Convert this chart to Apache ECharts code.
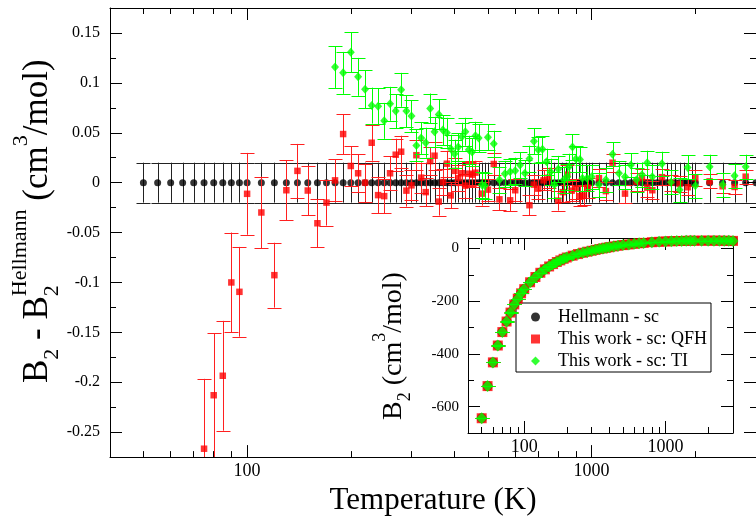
<!DOCTYPE html>
<html>
<head>
<meta charset="utf-8">
<script src="https://cdn.jsdelivr.net/npm/echarts@6/dist/echarts.min.js"></script>
<style>
html, body { margin: 0; padding: 0; background: #fff; }
#chart { width: 756px; height: 521px; }
</style>
</head>
<body>
<div id="chart"></div>
<script>
// ---- data ----
// Hellmann reference grid (deviation from itself is zero, band is its uncertainty)
var hellmannT = [50, 55, 60, 65, 70, 75, 80, 85, 90, 95, 100,
    110, 120, 130, 140, 150, 160, 170, 180, 190, 200,
    210, 220, 230, 240, 250, 260, 270, 280, 290, 300,
    310, 320, 330, 340, 350, 360, 370, 380, 390, 400,
    410, 420, 430, 440, 450, 460, 470, 480, 490, 500,
    520, 540, 560, 580, 600, 620, 640, 660, 680, 700,
    720, 740, 760, 780, 800, 820, 840, 860, 880, 900,
    920, 940, 960, 980, 1000,
    1050, 1100, 1150, 1200, 1250, 1300, 1350, 1400, 1450, 1500,
    1550, 1600, 1650, 1700, 1750, 1800, 1850, 1900, 1950, 2000,
    2200, 2400, 2600, 2800, 3000];
var hellmannDev = 0;
var hellmannErr = 0.02;

// This work - sc: QFH (red squares)
var qfhT = [75, 80, 85, 90, 95, 100, 110, 120, 130, 140, 150, 160, 170, 180, 190, 200,
    210, 220, 230, 240, 250, 260, 270, 280, 290, 300, 310, 320, 330, 340, 350, 360,
    370, 380, 390, 400, 410, 420, 430, 440, 450, 460, 480, 500, 520, 540, 580, 600,
    660, 680, 700, 725, 750, 800, 825, 850, 875, 900, 925, 950, 975,
    1050, 1100, 1150, 1250, 1350, 1400, 1450, 1500, 1600, 1700, 1800, 1900, 2000,
    2200, 2400, 2600, 2800];
var qfhDev = [-0.2666, -0.213, -0.1935, -0.100, -0.1094, -0.0112, -0.0299, -0.0927, -0.0076, 0.0118,
    -0.0079, -0.0407, -0.020, 0.0023, 0.0487, 0.0167,
    0.0094, 0.0, 0.040, -0.0125, -0.0135, 0.0094, 0.028, 0.031, -0.008, -0.0027, 0.0275, 0.005,
    -0.0095, 0.0216, 0.027, -0.019,
    0.0006, 0.019, -0.0128, 0.0118, 0.0045, 0.0094, -0.003, 0.009, 0.008, 0.010, -0.011, -0.007,
    0.0187, -0.0167, -0.0177, -0.0076,
    -0.0226, -0.002, -0.006, 0.0023, 0.005, -0.018, -0.0095, 0.008, -0.008, -0.006, -0.0135, -0.0128, -0.005,
    0.0045, -0.0085, 0.020, -0.011, 0.001, 0.0045, -0.005, -0.0076, 0.0055, 0.0, -0.0013, -0.0046, 0.0045,
    0.0013, -0.0036, -0.0043, 0.006];
var qfhErr = [0.070, 0.062, 0.055, 0.050, 0.045, 0.041, 0.036, 0.0325, 0.030, 0.027, 0.025, 0.024, 0.023, 0.021, 0.020, 0.020,
    0.019, 0.019, 0.018, 0.018, 0.017, 0.017, 0.016, 0.016, 0.016, 0.015, 0.015, 0.015, 0.014, 0.014, 0.014, 0.014,
    0.013, 0.013, 0.013, 0.013, 0.013, 0.012, 0.012, 0.012, 0.012, 0.012, 0.012, 0.011, 0.011, 0.011, 0.011, 0.011,
    0.010, 0.010, 0.010, 0.010, 0.010, 0.010, 0.010, 0.010, 0.010, 0.010, 0.010, 0.010, 0.010,
    0.009, 0.009, 0.009, 0.009, 0.009, 0.009, 0.009, 0.009, 0.008, 0.008, 0.008, 0.008, 0.008,
    0.007, 0.007, 0.007, 0.007];

// This work - sc: TI (green diamonds)
var tiT = [180, 190, 200, 210, 220, 230, 240, 250, 260, 270, 280, 290, 300, 310, 320, 330, 340, 350, 360, 370,
    380, 390, 400, 410, 420, 430, 440, 450, 460, 470, 480, 490, 500, 520, 540, 560, 580, 600, 620, 640,
    660, 680, 700, 720, 740, 760, 780, 800, 830, 850, 860, 880, 900, 925, 940, 970,
    1000, 1050, 1100, 1150, 1200, 1250, 1300, 1350, 1400, 1450, 1500, 1600, 1700, 1800, 1900, 2000,
    2200, 2400, 2600, 2800];
var tiDev = [0.1159, 0.110, 0.1306, 0.106, 0.0936, 0.0772, 0.0766, 0.0619, 0.079, 0.0717, 0.093, 0.0717, 0.0668,
    0.0373, 0.0448, 0.040, 0.0743, 0.051, 0.0684, 0.0527,
    0.050, 0.034, 0.029, 0.0357, 0.046, 0.051, 0.033, 0.0307, 0.047, 0.0448, -0.002, -0.003, 0.0455, 0.039,
    0.003, 0.0088, 0.011, 0.012, 0.0177, 0.0094,
    0.024, 0.0416, 0.033, 0.0334, 0.021, 0.011, -0.002, 0.0138, 0.003, 0.006, 0.016, 0.0357, 0.0238, 0.0232,
    0.0045, 0.0045,
    0.006, -0.002, 0.003, 0.0285, 0.0094, 0.006, 0.0177, 0.003, 0.008, 0.020, 0.006, 0.019, 0.0003, -0.007,
    0.0153, -0.003,
    0.016, -0.002, 0.007, 0.016];
var tiErr = [0.021, 0.021, 0.020, 0.019, 0.019, 0.018, 0.018, 0.018, 0.017, 0.017, 0.017, 0.016, 0.016, 0.016, 0.016,
    0.015, 0.015, 0.015, 0.015, 0.015,
    0.015, 0.014, 0.014, 0.014, 0.014, 0.014, 0.014, 0.014, 0.014, 0.014, 0.013, 0.013, 0.013, 0.013, 0.013,
    0.013, 0.013, 0.013, 0.013, 0.013,
    0.013, 0.013, 0.013, 0.013, 0.013, 0.013, 0.013, 0.013, 0.013, 0.013, 0.013, 0.013, 0.013, 0.013, 0.013, 0.013,
    0.012, 0.012, 0.012, 0.012, 0.012, 0.012, 0.012, 0.012, 0.012, 0.012, 0.012, 0.012, 0.012, 0.012, 0.012, 0.012,
    0.012, 0.012, 0.012, 0.012];

// inset: B2 itself (the three sets overlap at this scale)
var insetT = [50, 55, 60, 65, 70, 75, 80, 85, 90, 95, 100, 110, 120, 130, 140, 150, 160, 170, 180, 190,
    200, 220, 240, 260, 280, 300, 320, 340, 360, 380, 400, 430, 460, 500, 550, 600, 650, 700, 800, 900,
    1000, 1100, 1200, 1300, 1400, 1500, 1600, 1800, 2000, 2200, 2400, 2600, 2800, 3000];
var insetB2 = [-644, -522, -432, -368, -317, -277, -243, -212, -190, -170, -154, -128, -108, -92, -79, -68, -59, -51, -45, -39,
    -34, -27, -21, -16, -12, -8.5, -5, -2, 0.5, 3, 5, 8, 10.5, 13, 15.5, 18, 20, 21.5, 24, 25.5,
    27, 27.7, 28.3, 28.8, 29.2, 29.5, 29.7, 30, 30, 29.9, 29.7, 29.5, 29.2, 29];
var insetErr = 0.3;

// ticks
var xMajor = [100, 1000];
var xMinor = [50, 60, 70, 80, 90, 200, 300, 400, 500, 600, 700, 800, 900, 2000, 3000];
var yMajor = [-0.25, -0.2, -0.15, -0.1, -0.05, 0, 0.05, 0.1, 0.15];
var yMinor = [-0.225, -0.175, -0.125, -0.075, -0.025, 0.025, 0.075, 0.125];
var insetYMajor = [-600, -400, -200, 0];
var insetYMinor = [-700, -500, -300, -100];

var NAMES = ['Hellmann - sc', 'This work - sc: QFH', 'This work - sc: TI'];
var FONT = "'Liberation Serif', 'DejaVu Serif', serif";
var CFONT = '"Liberation Serif", "DejaVu Serif", serif';

var chart = echarts.init(document.getElementById('chart'), null, { renderer: 'canvas' });

function zip3(t, v, e) {
    var out = [];
    for (var i = 0; i < t.length; i++) {
        out.push([t[i], v[i], typeof e === 'number' ? e : e[i]]);
    }
    return out;
}
var hellmannData = hellmannT.map(function (t) { return [t, hellmannDev, hellmannErr]; });
var qfhData = zip3(qfhT, qfhDev, qfhErr);
var tiData = zip3(tiT, tiDev, tiErr);
var insetData = zip3(insetT, insetB2, insetErr);

function fmtT(v) { return String(Math.round(v)); }
function fmtY(v) { return String(Math.round(v * 1000) / 1000); }

// error bars through the axis scale
function errorBars(color, capHalf) {
    return function (params, api) {
        var x = api.value(0), y = api.value(1), e = api.value(2);
        var top = api.coord([x, y + e]);
        var bot = api.coord([x, y - e]);
        var cx = Math.round(top[0]) + 0.5;
        var st = { stroke: color, lineWidth: 1 };
        return {
            type: 'group',
            children: [
                { type: 'line', shape: { x1: cx, y1: top[1], x2: cx, y2: bot[1] }, style: st },
                { type: 'line', shape: { x1: cx - capHalf, y1: Math.round(top[1]) + 0.5, x2: cx + capHalf, y2: Math.round(top[1]) + 0.5 }, style: st },
                { type: 'line', shape: { x1: cx - capHalf, y1: Math.round(bot[1]) + 0.5, x2: cx + capHalf, y2: Math.round(bot[1]) + 0.5 }, style: st }
            ]
        };
    };
}

function xAxisLog(grid, pos, ticks, len, labelSize, showLine) {
    return {
        gridIndex: grid, type: 'log', logBase: 10, min: 40, max: 3000, position: pos,
        axisLine: { show: showLine, onZero: false, lineStyle: { color: '#000', width: 1 } },
        axisTick: { show: true, inside: true, length: len, customValues: ticks, lineStyle: { color: '#000', width: 1 } },
        axisLabel: labelSize ? { show: true, customValues: ticks, fontSize: labelSize, fontFamily: FONT, color: '#000', margin: 5, formatter: fmtT } : { show: false },
        splitLine: { show: false }
    };
}
function yAxisVal(grid, pos, min, max, ticks, len, labelSize, margin, showLine) {
    return {
        gridIndex: grid, type: 'value', min: min, max: max, position: pos,
        axisLine: { show: showLine, onZero: false, lineStyle: { color: '#000', width: 1 } },
        axisTick: { show: true, inside: true, length: len, customValues: ticks, lineStyle: { color: '#000', width: 1 } },
        axisLabel: labelSize ? { show: true, customValues: ticks, fontSize: labelSize, fontFamily: FONT, color: '#000', margin: margin, formatter: fmtY } : { show: false },
        splitLine: { show: false }
    };
}

var xAxes = [
    xAxisLog(0, 'bottom', xMajor, 12, 18, true),
    xAxisLog(0, 'bottom', xMinor, 6, 0, false),
    xAxisLog(0, 'top', xMajor, 12, 0, true),
    xAxisLog(0, 'top', xMinor, 6, 0, false),
    xAxisLog(1, 'bottom', xMajor, 12, 18, true),
    xAxisLog(1, 'bottom', xMinor, 6, 0, false),
    xAxisLog(1, 'top', xMajor, 12, 0, true),
    xAxisLog(1, 'top', xMinor, 6, 0, false)
];
xAxes[0].name = 'Temperature (K)';
xAxes[0].nameLocation = 'middle';
xAxes[0].nameGap = 21;
xAxes[0].nameTextStyle = { fontFamily: FONT, fontSize: 31, color: '#000' };

var yAxes = [
    yAxisVal(0, 'left', -0.275, 0.175, yMajor, 12, 16, 10, true),
    yAxisVal(0, 'left', -0.275, 0.175, yMinor, 6, 0, 0, false),
    yAxisVal(0, 'right', -0.275, 0.175, yMajor, 12, 0, 0, true),
    yAxisVal(0, 'right', -0.275, 0.175, yMinor, 6, 0, 0, false),
    yAxisVal(1, 'left', -700, 40, insetYMajor, 12, 15, 9, true),
    yAxisVal(1, 'left', -700, 40, insetYMinor, 6, 0, 0, false),
    yAxisVal(1, 'right', -700, 40, insetYMajor, 12, 0, 0, true),
    yAxisVal(1, 'right', -700, 40, insetYMinor, 6, 0, 0, false)
];

// axis titles with sub/superscripts, written upward
var measure = document.createElement('canvas').getContext('2d');
function textW(s, size) {
    measure.font = size + 'px ' + CFONT;
    return measure.measureText(s).width;
}
function rotatedTitle(x, y, pieces) {
    var children = [];
    var u = 0;
    pieces.forEach(function (p) {
        children.push({
            type: 'text', x: u, y: p.shift - 0.34 * p.size,
            style: { text: p.text, font: p.size + 'px ' + CFONT, fill: '#000', textAlign: 'left', textVerticalAlign: 'middle' }
        });
        if (!p.stack) u += textW(p.text, p.size);
    });
    return { type: 'group', x: x, y: y, rotation: Math.PI / 2, silent: true, children: children };
}
var F1 = 35, f1 = 22;
var mainTitle = rotatedTitle(50, 383, [
    { text: 'B', size: F1, shift: 0 },
    { text: '2', size: f1, shift: 0.29 * F1 },
    { text: ' - B', size: F1, shift: 0 },
    { text: '2', size: f1, shift: 0.29 * F1, stack: true },
    { text: 'Hellmann', size: f1, shift: -0.64 * F1 },
    { text: ' (cm', size: F1, shift: 0 },
    { text: '3', size: f1, shift: -0.62 * F1 },
    { text: '/mol)', size: F1, shift: 0 }
]);
var F2 = 28, f2 = 18;
var insetTitle = rotatedTitle(403, 420, [
    { text: 'B', size: F2, shift: 0 },
    { text: '2', size: f2, shift: 0.29 * F2 },
    { text: ' (cm', size: F2, shift: 0 },
    { text: '3', size: f2, shift: -0.6 * F2 },
    { text: '/mol)', size: F2, shift: 0 }
]);

var option = {
    animation: false,
    backgroundColor: '#fff',
    textStyle: { fontFamily: FONT },
    grid: [
        { left: 110, top: 8, width: 648, height: 458 },
        { left: 468, top: 238, width: 265, height: 195, show: true, backgroundColor: '#fff', borderWidth: 0 }
    ],
    xAxis: xAxes,
    yAxis: yAxes,
    legend: {
        data: [
            { name: NAMES[0], icon: 'circle' },
            { name: NAMES[1], icon: 'rect' },
            { name: NAMES[2], icon: 'diamond' }
        ],
        orient: 'vertical', left: 516, top: 303,
        padding: [5, 4, 2, 15], itemGap: 4, itemWidth: 9, itemHeight: 9,
        backgroundColor: '#fff', borderColor: '#000', borderWidth: 1, borderRadius: 0,
        selectedMode: false,
        textStyle: { fontFamily: FONT, fontSize: 18, color: '#000', padding: [0, 0, 0, 13] }
    },
    graphic: [mainTitle, insetTitle],
    series: [
        // main panel: deviations from Hellmann
        { type: 'custom', name: 'hellmann-err', xAxisIndex: 0, yAxisIndex: 0, clip: true, z: 2,
          renderItem: errorBars('#222', 7), data: hellmannData, encode: { x: 0, y: 1 } },
        { type: 'scatter', name: NAMES[0], xAxisIndex: 0, yAxisIndex: 0, z: 3, symbol: 'circle', symbolSize: 7,
          itemStyle: { color: '#000' }, data: hellmannData },
        { type: 'custom', name: 'qfh-err', xAxisIndex: 0, yAxisIndex: 0, clip: true, z: 4,
          renderItem: errorBars('#ff2020', 7), data: qfhData, encode: { x: 0, y: 1 } },
        { type: 'scatter', name: NAMES[1], xAxisIndex: 0, yAxisIndex: 0, z: 5, symbol: 'rect', symbolSize: 6.5,
          itemStyle: { color: '#ff0000' }, data: qfhData },
        { type: 'custom', name: 'ti-err', xAxisIndex: 0, yAxisIndex: 0, clip: true, z: 6,
          renderItem: errorBars('#00ff00', 7), data: tiData, encode: { x: 0, y: 1 } },
        { type: 'scatter', name: NAMES[2], xAxisIndex: 0, yAxisIndex: 0, z: 7, symbol: 'diamond', symbolSize: [8, 9],
          itemStyle: { color: '#00ff00' }, data: tiData },

        // inset: B2
        { type: 'scatter', name: NAMES[0], xAxisIndex: 4, yAxisIndex: 4, z: 10, symbol: 'circle', symbolSize: 10,
          itemStyle: { color: '#000' }, data: insetData },
        { type: 'custom', name: 'inset-qfh-err', xAxisIndex: 4, yAxisIndex: 4, clip: true, z: 11,
          renderItem: errorBars('#ff0000', 7), data: insetData, encode: { x: 0, y: 1 } },
        { type: 'scatter', name: NAMES[1], xAxisIndex: 4, yAxisIndex: 4, z: 12, symbol: 'rect', symbolSize: 10,
          itemStyle: { color: '#ff0000' }, data: insetData },
        { type: 'custom', name: 'inset-ti-err', xAxisIndex: 4, yAxisIndex: 4, clip: true, z: 13,
          renderItem: errorBars('#00ff00', 7), data: insetData, encode: { x: 0, y: 1 } },
        { type: 'scatter', name: NAMES[2], xAxisIndex: 4, yAxisIndex: 4, z: 14, symbol: 'diamond', symbolSize: [11, 12],
          itemStyle: { color: '#00ff00' }, data: insetData }
    ]
};
chart.setOption(option);
</script>
</body>
</html>
